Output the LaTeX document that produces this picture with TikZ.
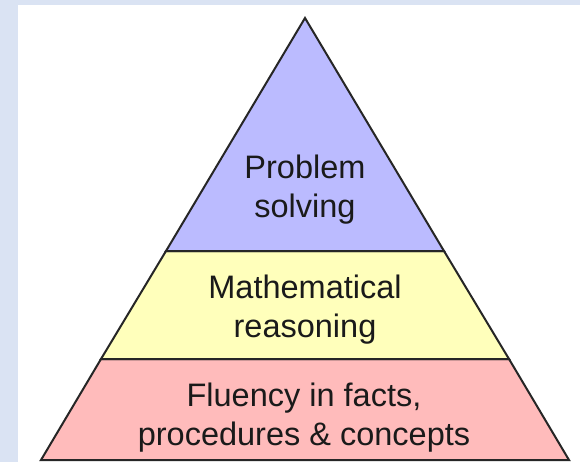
\documentclass[tikz,border=0pt]{standalone}
\usepackage{fontspec}
\setmainfont{Liberation Sans}
\usetikzlibrary{positioning}
\definecolor{pagebg}{HTML}{DAE3F3}
\definecolor{topfill}{HTML}{BBBBFF}
\definecolor{midfill}{HTML}{FFFFBB}
\definecolor{basefill}{HTML}{FFBBBB}
\definecolor{tiertext}{HTML}{1A1A1A}

\begin{document}
\begin{tikzpicture}[
        x=0.5pt, y=-0.5pt,
        layer/.style={
            draw=black!85,
            line width=1pt,
            line join=miter
        },
        tier/.style={
            align=center,
            inner sep=0pt,
            text=tiertext,
            font=\fontsize{16.25}{19.5}\selectfont
        }
    ]
        % Background
        \fill[pagebg] (0,0) rectangle (580,462);
        \fill[white] (18,5) rectangle (580,462);
        \useasboundingbox (0,0) rectangle (580,462);

        % Corners
        \coordinate (apex) at (305,18);
        \coordinate (topL) at (166,251);
        \coordinate (topR) at (444,251);
        \coordinate (midL) at (101,359);
        \coordinate (midR) at (509,359);
        \coordinate (baseL) at (41,460);
        \coordinate (baseR) at (569,460);

        % Layers
        \filldraw[layer, fill=basefill] (midL) -- (midR) -- (baseR) -- (baseL) -- cycle;
        \filldraw[layer, fill=midfill] (topL) -- (topR) -- (midR) -- (midL) -- cycle;
        \filldraw[layer, fill=topfill] (apex) -- (topR) -- (topL) -- cycle;

        % Labels
        \node[tier] (solving) at (305,190) {Problem\\solving};
        \node[tier] (reasoning) at (305,310) {Mathematical\\reasoning};
        \node[tier] (fluency) at (304,418) {Fluency in facts,\\procedures \& concepts};

    \end{tikzpicture}
\end{document}
